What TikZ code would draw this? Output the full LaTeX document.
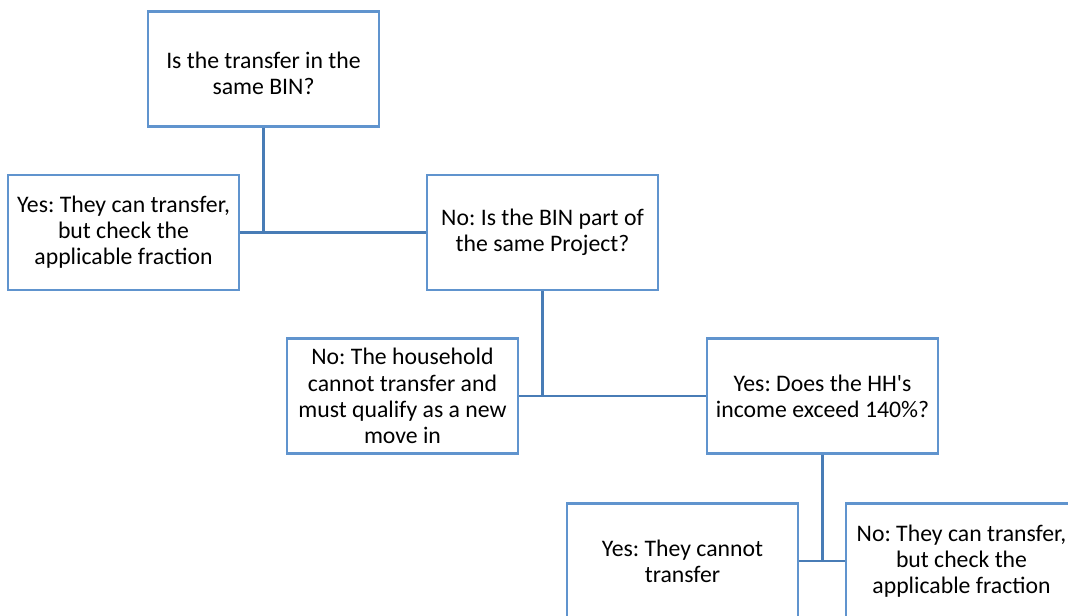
\documentclass[tikz,border=0pt]{standalone}
\usepackage{fontspec}
\setmainfont{Carlito}[Ligatures=TeXOff]
\frenchspacing
\definecolor{boxblue}{RGB}{96,148,206}
\definecolor{lineblue}{RGB}{72,124,182}
\begin{document}
\begin{tikzpicture}[x=0.75pt,y=-0.75pt,
  qbox/.style={draw=boxblue, line width=1.6pt, fill=white, rectangle,
    minimum width=173.25pt, minimum height=86.25pt, inner sep=1pt,
    align=center, font=\fontsize{17.8pt}{19.6pt}\selectfont, text=black},
  conn/.style={draw=lineblue, line width=1.8pt}]
\clip (0,0) rectangle (1068,615);
\fill[white] (0,0) rectangle (1068,615);
\node[qbox] (b1) at (263.5,69) {\rule{0pt}{19.5pt}Is the transfer in the\\same BIN?};
\node[qbox] (b2) at (123.5,232.5) {Yes: They can transfer,\\but check the\\applicable fraction};
\node[qbox] (b3) at (542.5,232.5) {No: Is the BIN part of\\the same Project?};
\node[qbox] (b4) at (402.5,396) {No: The household\\cannot transfer and\\must qualify as a new\\move in};
\node[qbox] (b5) at (822.5,396) {Yes: Does the HH's\\income exceed 140\%?};
\node[qbox] (b6) at (682.5,561) {Yes: They cannot\\transfer};
\node[qbox] (b7) at (961.5,561) {No: They can transfer,\\but check the\\applicable fraction};
\draw[conn] (b1.south) -- (b1.south |- b2.east);
\draw[conn] (b2.east) -- (b3.west);
\draw[conn] (b3.south) -- (b3.south |- b4.east);
\draw[conn] (b4.east) -- (b5.west);
\draw[conn] (b5.south) -- (b5.south |- b6.east);
\draw[conn] (b6.east) -- (b7.west);
\end{tikzpicture}
\end{document}
